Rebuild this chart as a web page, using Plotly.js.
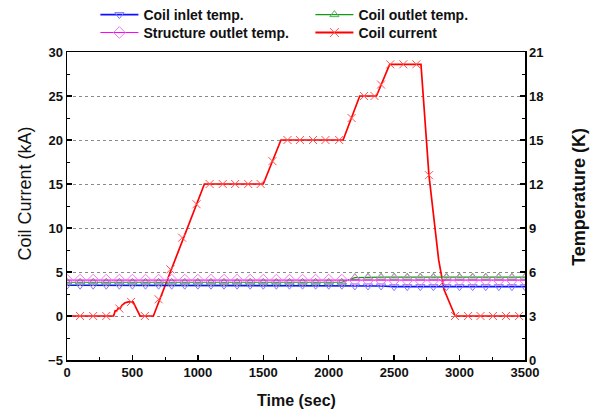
<!DOCTYPE html>
<html>
<head>
<meta charset="utf-8">
<script src="https://cdn.plot.ly/plotly-3.0.1.min.js"></script>
<style>html,body{margin:0;padding:0;background:#fff;}#chart{width:593px;height:410px;}</style>
</head>
<body>
<div id="chart"></div>
<script>
// Coil current line vertices (sec, kA)
var currentTime = [0, 356, 368, 378, 392, 405, 420, 444, 470, 505, 558, 660, 1050, 1500, 1635, 2110, 2237, 2365, 2466, 2705, 2766, 2840, 2881, 2966, 3500];
var currentKA   = [0, 0, 0.6, 0.55, 0.9, 0.85, 1.2, 1.5, 1.6, 1.6, 0, 0, 15, 15, 20, 20, 25, 25, 28.6, 28.6, 16, 6.4, 3.0, 0, 0];
// Coil current marker points (sec, kA)
var currentMarkTime = [100, 200, 300, 400, 490, 595, 700, 790, 880, 990, 1090, 1190, 1285, 1385, 1480, 1570, 1685, 1780, 1880, 1975, 2080, 2175, 2270, 2350, 2400, 2470, 2570, 2670, 2766, 2870, 2965, 3065, 3160, 3255, 3355, 3455];
var currentMarkKA   = [0, 0, 0, 0.85, 1.6, 0, 1.9, 5.3, 8.9, 12.7, 15, 15, 15, 15, 15, 17.6, 20, 20, 20, 20, 20, 22.5, 25, 25, 26.3, 28.6, 28.6, 28.6, 16, 3.8, 0, 0, 0, 0, 0, 0];

// Temperatures (sec, K)
var tempTime = [0,100,200,300,400,500,600,700,800,900,1000,1100,1200,1300,1400,1500,1600,1700,1800,1900,2000,2100,2200,2300,2400,2500,2600,2700,2800,2900,3000,3100,3200,3300,3400,3500];
var coilInletK = [5.1,5.1,5.1,5.1,5.1,5.1,5.1,5.1,5.1,5.1,5.1,5.1,5.1,5.1,5.1,5.1,5.1,5.1,5.1,5.1,5.1,5.1,5.05,5.05,5.05,5.0,5.0,5.0,5.0,5.0,5.0,5.0,5.0,5.0,5.0,5.0];
var coilOutletK = [5.3,5.3,5.3,5.3,5.3,5.3,5.3,5.3,5.3,5.3,5.3,5.3,5.3,5.3,5.3,5.3,5.3,5.3,5.3,5.3,5.3,5.3,5.62,5.65,5.65,5.65,5.65,5.65,5.65,5.65,5.65,5.65,5.65,5.65,5.65,5.65];
var structOutletK = [5.45,5.45,5.45,5.45,5.45,5.45,5.45,5.45,5.45,5.45,5.45,5.45,5.45,5.45,5.45,5.45,5.45,5.45,5.45,5.45,5.45,5.45,5.45,5.45,5.45,5.45,5.45,5.45,5.45,5.45,5.45,5.45,5.45,5.45,5.45,5.45];

var seriesNames = ['Coil inlet temp.', 'Coil outlet temp.', 'Structure outlet temp.', 'Coil current'];

var data = [
  {x: tempTime, y: coilInletK, yaxis: 'y2', name: seriesNames[0], mode: 'lines+markers', legend: 'legend',
   line: {color: '#1010ff', width: 1.6},
   marker: {symbol: 'triangle-down-open', size: 8, color: '#7a7aff', line: {width: 1}}},
  {x: tempTime, y: coilOutletK, yaxis: 'y2', name: seriesNames[1], mode: 'lines+markers', legend: 'legend',
   line: {color: '#129a12', width: 1.2},
   marker: {symbol: 'triangle-up-open', size: 8, color: '#55b055', line: {width: 1}}},
  {x: tempTime, y: structOutletK, yaxis: 'y2', name: seriesNames[2], mode: 'lines+markers', legend: 'legend2',
   line: {color: '#ff00ff', width: 1.2},
   marker: {symbol: 'diamond-open', size: 9, color: '#f07af0', line: {width: 1}}},
  {x: [null], y: [null], name: seriesNames[3], mode: 'lines+markers', legend: 'legend2',
   line: {color: '#ff0000', width: 1.8},
   marker: {symbol: 'x-thin-open', size: 9, color: '#ff5050', line: {width: 1, color: '#ff5050'}}},
  {x: currentTime, y: currentKA, name: seriesNames[3], mode: 'lines', showlegend: false,
   line: {color: '#ff0000', width: 1.7}},
  {x: currentMarkTime, y: currentMarkKA, name: seriesNames[3], mode: 'markers', showlegend: false,
   marker: {symbol: 'x-thin-open', size: 8, color: '#ff5050', line: {width: 1, color: '#ff5050'}}}
];

var tickFont = {family: 'Liberation Sans, Arial, sans-serif', size: 13, color: '#111', weight: 'bold'};
var legendFont = {family: 'Liberation Sans, Arial, sans-serif', size: 14, color: '#111', weight: 'bold'};

var layout = {
  width: 593, height: 410,
  margin: {l: 66.5, r: 68, t: 52, b: 50, pad: 0, autoexpand: false},
  paper_bgcolor: '#fff', plot_bgcolor: '#fff',
  showlegend: true,
  legend: {orientation: 'h', x: 0.062, y: 1.12, xanchor: 'left', yanchor: 'middle',
    font: legendFont, entrywidth: 162, itemwidth: 38, bgcolor: 'rgba(0,0,0,0)', borderwidth: 0},
  legend2: {orientation: 'h', x: 0.062, y: 1.062, xanchor: 'left', yanchor: 'middle',
    font: legendFont, entrywidth: 162, itemwidth: 38, bgcolor: 'rgba(0,0,0,0)', borderwidth: 0},
  xaxis: {range: [0, 3500], dtick: 500, tick0: 0, showgrid: false, zeroline: false,
    showline: true, linecolor: '#000', linewidth: 1.5, mirror: true,
    ticks: 'inside', ticklen: 5, tickwidth: 1.3, tickcolor: '#000',
    minor: {ticks: 'inside', dtick: 250, ticklen: 3, tickwidth: 1, tickcolor: '#000', showgrid: false},
    tickfont: tickFont},
  yaxis: {range: [-5, 30], dtick: 5, tick0: 0, zeroline: false,
    showgrid: true, gridcolor: '#8a8a8a', griddash: 'dot', gridwidth: 1,
    showline: true, linecolor: '#000', linewidth: 1.5, mirror: false,
    ticks: 'inside', ticklen: 5, tickwidth: 1.3, tickcolor: '#000',
    minor: {ticks: 'inside', dtick: 2.5, ticklen: 3, tickwidth: 1, tickcolor: '#000', showgrid: false},
    tickfont: tickFont},
  yaxis2: {range: [0, 21], dtick: 3, tick0: 0, overlaying: 'y', side: 'right', zeroline: false,
    showgrid: false, showline: true, linecolor: '#000', linewidth: 1.5,
    ticks: 'inside', ticklen: 5, tickwidth: 1.3, tickcolor: '#000',
    minor: {ticks: 'inside', dtick: 1.5, ticklen: 3, tickwidth: 1, tickcolor: '#000', showgrid: false},
    tickfont: tickFont},
  annotations: [
    {text: 'Time (sec)', xref: 'paper', yref: 'paper', x: 0.5, y: -0.13, xanchor: 'center', yanchor: 'middle',
     showarrow: false, font: {family: 'Liberation Sans, Arial, sans-serif', size: 16, color: '#111', weight: 'bold'}},
    {text: 'Coil Current (kA)', xref: 'paper', yref: 'paper', x: -0.092, y: 0.54, xanchor: 'center', yanchor: 'middle',
     textangle: -90, showarrow: false, font: {family: 'Liberation Sans, Arial, sans-serif', size: 18, color: '#111'}},
    {text: 'Temperature (K)', xref: 'paper', yref: 'paper', x: 1.118, y: 0.53, xanchor: 'center', yanchor: 'middle',
     textangle: -90, showarrow: false, font: {family: 'Liberation Sans, Arial, sans-serif', size: 18, color: '#111', weight: 'bold'}}
  ]
};

Plotly.newPlot('chart', data, layout, {staticPlot: true, displayModeBar: false});
</script>
</body>
</html>
